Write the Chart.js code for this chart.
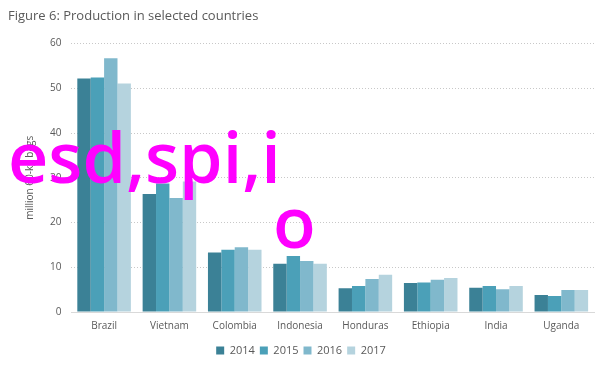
<!DOCTYPE html>
<html lang="en">
<head>
    <meta charset="UTF-8">
    <title>Figure 6: Production in selected countries</title>
    <script src="https://cdn.jsdelivr.net/npm/chart.js"></script>
    <style>
        body { margin: 0; background: #fff; }
    </style>
</head>
<body>
<canvas id="prodChart" width="612" height="366"></canvas>

<script>
    const countries = ['Brazil', 'Vietnam', 'Colombia', 'Indonesia', 'Honduras', 'Ethiopia', 'India', 'Uganda'];
    const years = ['2014', '2015', '2016', '2017'];
    const prod2014 = [52.2, 26.4, 13.3, 10.8, 5.3, 6.5, 5.4, 3.8];
    const prod2015 = [52.4, 28.7, 13.9, 12.5, 5.8, 6.6, 5.8, 3.6];
    const prod2016 = [56.7, 25.5, 14.5, 11.4, 7.4, 7.2, 5.1, 4.9];
    const prod2017 = [51.1, 29.2, 13.9, 10.8, 8.3, 7.6, 5.8, 4.9];
    const yTicks = [0, 10, 20, 30, 40, 50, 60];

    const colors = ['#3b8196', '#4ba0b8', '#80b8cc', '#b5d3de'];
    const series = [prod2014, prod2015, prod2016, prod2017];

    // overlay text that sits on top of the picture
    const overlay = {
        id: 'overlay',
        afterDraw(chart) {
            const c = chart.ctx;
            c.save();
            c.fillStyle = '#ff00ff';
            c.font = '600 70px "Open Sans"';
            c.textBaseline = 'alphabetic';
            c.fillText('esd,spi,i', 8, 183);
            c.fillText('o', 273, 248);
            c.restore();
        }
    };

    const grey = '#595959';
    const ctx = document.getElementById('prodChart').getContext('2d');
    new Chart(ctx, {
        type: 'bar',
        data: {
            labels: countries,
            datasets: years.map((y, i) => ({
                label: y,
                data: series[i],
                backgroundColor: colors[i],
                borderWidth: 0,
                barPercentage: 1.0,
                categoryPercentage: 0.82
            }))
        },
        options: {
            responsive: false,
            animation: false,
            layout: { padding: { left: 8, right: 18, top: 6, bottom: 0 } },
            plugins: {
                title: {
                    display: true,
                    text: 'Figure 6: Production in selected countries',
                    align: 'start',
                    color: grey,
                    font: { family: 'Open Sans', size: 13, weight: 'normal' },
                    padding: { top: 2, bottom: 20 }
                },
                legend: {
                    position: 'bottom',
                    labels: {
                        color: grey,
                        boxWidth: 8,
                        boxHeight: 8,
                        padding: 5,
                        font: { family: 'Open Sans', size: 11 }
                    }
                },
                tooltip: { enabled: false }
            },
            scales: {
                x: {
                    grid: { display: false, drawTicks: false },
                    border: { color: '#d9d9d9' },
                    ticks: { color: grey, padding: 8, font: { family: 'Open Sans', size: 10 } }
                },
                y: {
                    min: 0,
                    max: 60,
                    afterBuildTicks: axis => { axis.ticks = yTicks.map(v => ({ value: v })); },
                    title: {
                        display: true,
                        text: 'million 60-kg bags',
                        color: grey,
                        font: { family: 'Open Sans', size: 10 },
                        padding: { top: 16, bottom: 4 }
                    },
                    grid: { color: '#c8c8c8', drawTicks: false },
                    border: { display: false, dash: [1, 2] },
                    ticks: { color: grey, padding: 10, font: { family: 'Open Sans', size: 10 } }
                }
            }
        },
        plugins: [overlay]
    });
</script>
</body>
</html>
